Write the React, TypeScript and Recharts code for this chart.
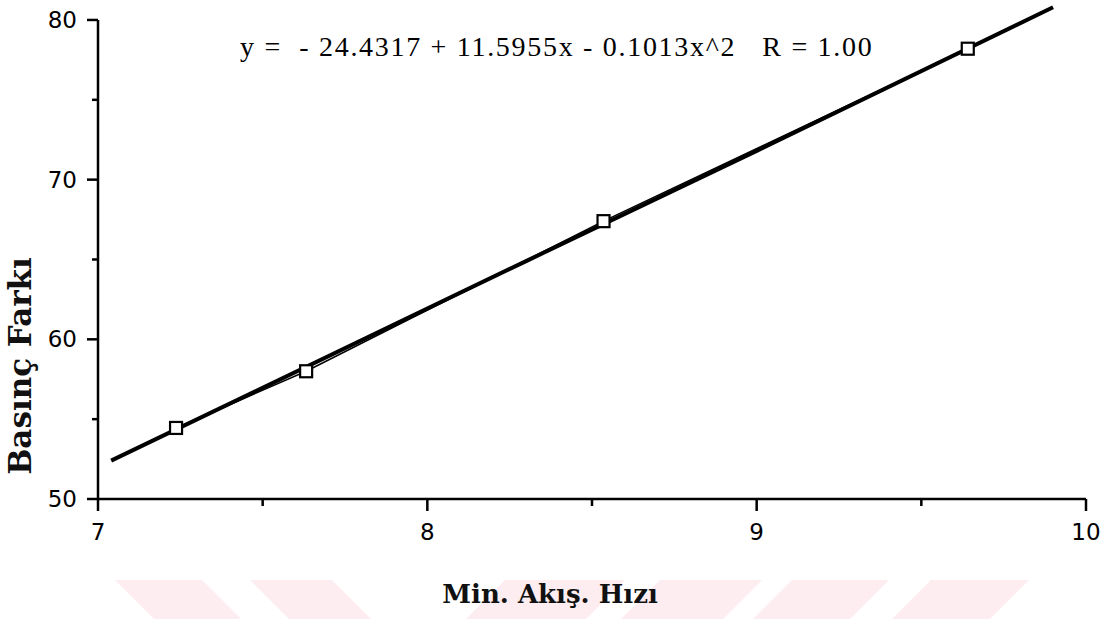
import { ComposedChart, Line, XAxis, YAxis, ReferenceLine } from "recharts";

// measured points (Min. Akış Hızı vs Basınç Farkı)
const measuredX = [7.237, 7.632, 8.535, 9.641];
const measuredY = [54.45, 58.0, 67.4, 78.2];

// fitted curve
const fitX = [7.04, 8.3, 9.0, 9.9];
const fitY = [52.4, 64.9, 71.8, 80.8];

const xTicks = [7, 7.5, 8, 8.5, 9, 9.5, 10];
const yTicks = [50, 55, 60, 65, 70, 75, 80];

const xTitle = "Min. Akış. Hızı";
const yTitle = "Basınç Farkı";
const equation = "y =  - 24.4317 + 11.5955x - 0.1013x^2   R = 1.00";

const measured = measuredX.map((x, i) => ({ x, y: measuredY[i] }));
const fit = fitX.map((x, i) => ({ x, y: fitY[i] }));

const tickFont = { fontFamily: "'DejaVu Sans', sans-serif", fontSize: 23, fill: "#000" };

const XTick = ({ x, y, payload }: any) => {
  const major = Number.isInteger(payload.value);
  return (
    <g>
      <line x1={x} x2={x} y1={y} y2={y + (major ? 12 : 7)} stroke="#000" strokeWidth={2.5} />
      {major && (
        <text x={x} y={y + 33} textAnchor="middle" dominantBaseline="central" {...tickFont}>
          {payload.value}
        </text>
      )}
    </g>
  );
};

const YTick = ({ x, y, payload }: any) => {
  const major = payload.value % 10 === 0;
  return (
    <g>
      <line x1={x - (major ? 11 : 6)} x2={x} y1={y} y2={y} stroke="#000" strokeWidth={2.5} />
      {major && (
        <text x={x - 21} y={y} textAnchor="end" dominantBaseline="central" {...tickFont}>
          {payload.value}
        </text>
      )}
    </g>
  );
};

const Square = ({ cx, cy, index }: any) => (
  <rect key={`sq-${index}`} x={cx - 6} y={cy - 6} width={12} height={12} fill="#fff" stroke="#000" strokeWidth={2.2} />
);

export default function App() {
  const pink = "#fdecf0";
  return (
    <div style={{ position: "absolute", left: 0, top: 0, width: 1108, height: 619, background: "#fff" }}>
      <svg width={1108} height={619} style={{ position: "absolute", left: 0, top: 0 }}>
        {/* watermark stripes */}
        <polygon points="115,580 202,580 241,619 154,619" fill={pink} />
        <polygon points="250,580 332,580 371,619 289,619" fill={pink} />
        <polygon points="505,580 625,580 586,619 466,619" fill={pink} />
        <polygon points="660,580 762,580 723,619 621,619" fill={pink} />
        <polygon points="792,580 889,580 850,619 753,619" fill={pink} />
        <polygon points="931,580 1029,580 990,619 892,619" fill={pink} />
        <text
          x={240}
          y={56}
          style={{ whiteSpace: "pre", letterSpacing: 1.7 }}
          fontFamily="'Liberation Serif', 'Times New Roman', serif"
          fontSize={28}
          fill="#000"
        >
          {equation}
        </text>
        <text
          x={550}
          y={603}
          textAnchor="middle"
          fontFamily="'DejaVu Serif', serif"
          fontWeight="bold"
          fontSize={26}
          fill="#111"
        >
          {xTitle}
        </text>
        <text
          x={20}
          y={366}
          transform="rotate(-90 20 366)"
          textAnchor="middle"
          dominantBaseline="central"
          fontFamily="'DejaVu Serif', serif"
          fontWeight="bold"
          fontSize={31}
          fill="#111"
        >
          {yTitle}
        </text>
      </svg>
      <div style={{ position: "absolute", left: 0, top: 0 }}>
        <ComposedChart width={1108} height={619} margin={{ top: 4, right: 22, bottom: 80, left: 0 }}>
          <XAxis
            type="number"
            dataKey="x"
            domain={[7, 10]}
            ticks={xTicks}
            interval={0}
            height={40}
            tickSize={0}
            tickMargin={0}
            tickLine={false}
            axisLine={{ stroke: "#000", strokeWidth: 2.5 }}
            tick={<XTick />}
          />
          <YAxis
            type="number"
            dataKey="y"
            domain={[50, 81]}
            allowDataOverflow
            ticks={yTicks}
            interval={0}
            width={98}
            tickSize={0}
            tickMargin={0}
            tickLine={false}
            axisLine={false}
            tick={<YTick />}
          />
          <ReferenceLine
            segment={[
              { x: 7, y: 50 },
              { x: 7, y: 80 },
            ]}
            stroke="#000"
            strokeWidth={2.5}
          />
          <Line
            data={fit}
            dataKey="y"
            type="linear"
            stroke="#000"
            strokeWidth={4}
            dot={false}
            activeDot={false}
            isAnimationActive={false}
          />
          <Line
            data={measured}
            dataKey="y"
            type="linear"
            stroke="#000"
            strokeWidth={1.5}
            dot={<Square />}
            activeDot={false}
            isAnimationActive={false}
          />
        </ComposedChart>
      </div>
    </div>
  );
}
